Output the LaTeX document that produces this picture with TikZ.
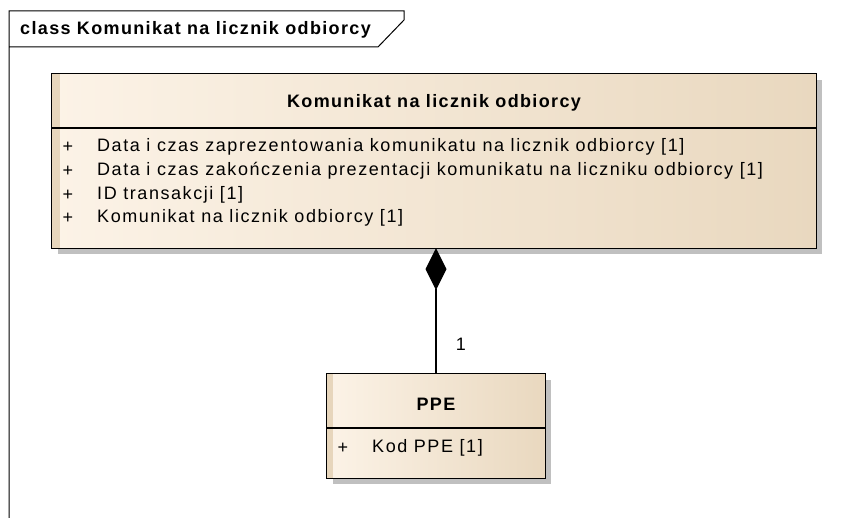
\documentclass[tikz,border=0pt]{standalone}
\usepackage{fontspec}
\setmainfont{Liberation Sans}[LetterSpace=8.7,BoldFeatures={LetterSpace=7.5}]
\usetikzlibrary{arrows.meta,shadows}
\definecolor{boxL}{RGB}{252,243,231}
\definecolor{boxR}{RGB}{233,216,191}
\definecolor{stripc}{RGB}{231,214,188}
\definecolor{shad}{RGB}{192,192,192}
\begin{document}
\begin{tikzpicture}[x=1pt,y=-1pt,font=\fontsize{18}{21}\selectfont,
  classfill/.style={left color=boxL,right color=boxR,inner sep=0pt,
    drop shadow={shadow xshift=6pt,shadow yshift=-6pt,fill=shad,opacity=1}},
  border/.style={line width=1.3pt,draw=black},
  txt/.style={inner sep=0pt,anchor=west},
  plus/.style={inner sep=0pt}]
\useasboundingbox (0,0) rectangle (852,518);
% frame
\draw[line width=1pt] (9,518) -- (9,11) -- (404,11) -- (404,20) -- (378,47) -- (9,47);
\node[txt,font=\fontsize{18}{21}\selectfont\bfseries] (title) at (20,30) {class Komunikat na licznik odbiorcy};
% main class
\node[classfill,minimum width=764pt,minimum height=174pt] (kom) at (434,161) {};
\fill[stripc] ([xshift=0.6pt,yshift=-0.6pt]kom.north west) rectangle ([xshift=8pt,yshift=0.6pt]kom.south west);
\draw[border] (kom.north west) rectangle (kom.south east);
\draw[border] (kom.west |- 0,128) -- (kom.east |- 0,128);
\node[inner sep=0pt,font=\fontsize{18}{21}\selectfont\bfseries] (komname) at (434,103) {Komunikat na licznik odbiorcy};
\node[plus] (p1) at (68,147) {+};
\node[txt] (a1) at (97,147) {Data i czas zaprezentowania komunikatu na licznik odbiorcy [1]};
\node[plus] (p2) at (68,171) {+};
\node[txt] (a2) at (97,171) {Data i czas zakończenia prezentacji komunikatu na liczniku odbiorcy [1]};
\node[plus] (p3) at (68,195) {+};
\node[txt] (a3) at (97,195) {ID transakcji [1]};
\node[plus] (p4) at (68,218) {+};
\node[txt] (a4) at (97,218) {Komunikat na licznik odbiorcy [1]};
% PPE class
\node[classfill,minimum width=218pt,minimum height=104pt] (ppe) at (436,426) {};
\fill[stripc] ([xshift=0.6pt,yshift=-0.6pt]ppe.north west) rectangle ([xshift=6pt,yshift=0.6pt]ppe.south west);
\draw[border] (ppe.north west) rectangle (ppe.south east);
\draw[border] (ppe.west |- 0,428) -- (ppe.east |- 0,428);
\node[inner sep=0pt,font=\fontsize{18}{21}\selectfont\bfseries] (ppename) at (436,404) {PPE};
\node[plus] (pp1) at (343,448) {+};
\node[txt] (b1) at (372,448) {Kod PPE [1]};
% composition
\draw[line width=1.3pt,{Diamond[length=42pt,width=21pt]}-] (kom.south -| ppe.north) -- (ppe.north);
\node[inner sep=0pt] (mult) at (461,344) {1};
\end{tikzpicture}
\end{document}
